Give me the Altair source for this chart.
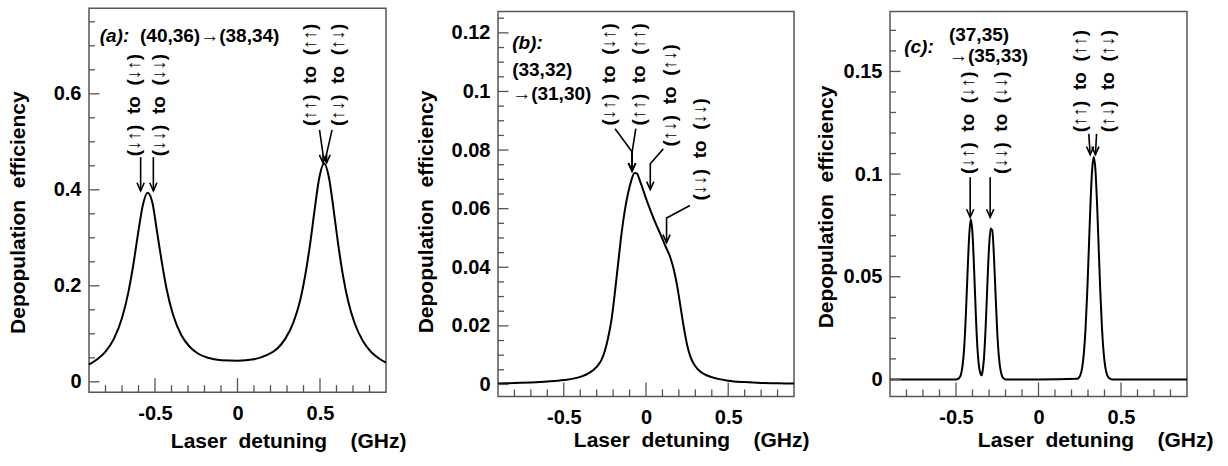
import altair as alt
import pandas as pd

FONT = "Liberation Sans"
FRAME = "#555555"
PAGE_H = 466
XDOM = [-0.9, 0.9]
XTITLE = "Laser\u00a0\u00a0detuning\u00a0\u00a0\u00a0\u00a0(GHz)"
YTITLE = "Depopulation\u00a0\u00a0efficiency"
X_MAJOR = [-0.5, 0.0, 0.5]
X_MINOR = [-0.8, -0.7, -0.6, -0.4, -0.3, -0.2, -0.1, 0.1, 0.2, 0.3, 0.4, 0.6, 0.7, 0.8]
SP = "\u00a0\u00a0"

# ---------------- panel (a) ----------------
a_x = [-0.90, -0.85, -0.80, -0.75, -0.70, -0.66, -0.63, -0.60, -0.575, -0.545, -0.515,
       -0.49, -0.46, -0.43, -0.39, -0.34, -0.29, -0.24, -0.18, -0.10, 0.00, 0.10, 0.18,
       0.24, 0.29, 0.34, 0.38, 0.41, 0.44, 0.47, 0.495, 0.525, 0.555, 0.58, 0.61, 0.64,
       0.67, 0.71, 0.76, 0.81, 0.86, 0.90]
a_y = [0.036, 0.047, 0.063, 0.089, 0.133, 0.189, 0.247, 0.315, 0.366, 0.394, 0.372,
       0.318, 0.252, 0.194, 0.139, 0.097, 0.073, 0.059, 0.050, 0.045, 0.044, 0.047, 0.056,
       0.069, 0.090, 0.125, 0.170, 0.221, 0.287, 0.365, 0.424, 0.455, 0.424, 0.365, 0.287,
       0.220, 0.169, 0.122, 0.085, 0.062, 0.048, 0.040]
a_ymajor = [0, 0.2, 0.4, 0.6]
a_yminor = [0.05, 0.1, 0.15, 0.25, 0.3, 0.35, 0.45, 0.5, 0.55, 0.65, 0.7, 0.75]
a_labels = ["(↓↑)" + SP + "to" + SP + "(↓↑)", "(↓↓)" + SP + "to" + SP + "(↓↓)",
            "(↑↑)" + SP + "to" + SP + "(↑↑)", "(↑↓)" + SP + "to" + SP + "(↑↓)"]
a_label_x = [-0.63, -0.475, 0.437, 0.609]
a_label_y = [0.470, 0.470, 0.533, 0.533]
a_arrows = [
    [(-0.587, 0.468), (-0.587, 0.398)],
    [(-0.510, 0.468), (-0.510, 0.398)],
    [(0.497, 0.525), (0.518, 0.475), (0.518, 0.456)],
    [(0.573, 0.525), (0.540, 0.475), (0.540, 0.456)],
]
a_head_it = [("(a):", -0.835, 0.7200)]
a_head = [("(40,36)→(38,34)", -0.591, 0.7200)]

# ---------------- panel (b) ----------------
b_x = [-0.90, -0.80, -0.70, -0.60, -0.50, -0.40, -0.35, -0.30, -0.27, -0.25, -0.23, -0.21,
       -0.19, -0.17, -0.15, -0.13, -0.11, -0.09, -0.07, -0.055, -0.04, -0.02, 0.00, 0.03,
       0.06, 0.09, 0.12, 0.15, 0.17, 0.19, 0.21, 0.23, 0.25, 0.27, 0.30, 0.34, 0.40, 0.50,
       0.60, 0.70, 0.80, 0.90]
b_y = [0.0003, 0.0005, 0.0007, 0.0010, 0.0015, 0.0026, 0.0038, 0.0060, 0.0085, 0.0115,
       0.0160, 0.0220, 0.0310, 0.0410, 0.0510, 0.0590, 0.0650, 0.0695, 0.0722, 0.0720,
       0.0700, 0.0668, 0.0635, 0.0590, 0.0548, 0.0510, 0.0470, 0.0430, 0.0390, 0.0335,
       0.0265, 0.0195, 0.0135, 0.0095, 0.0062, 0.0040, 0.0025, 0.0013, 0.0008, 0.0005,
       0.0004, 0.0003]
b_ymajor = [0, 0.02, 0.04, 0.06, 0.08, 0.1, 0.12]
b_yminor = [round(0.005 * i, 4) for i in range(1, 26) if i % 4 != 0]
b_labels = ["(↓↑)" + SP + "to" + SP + "(↓↑)", "(↑↑)" + SP + "to" + SP + "(↑↑)",
            "(↑↓)" + SP + "to" + SP + "(↑↓)", "(↓↓)" + SP + "to" + SP + "(↓↓)"]
b_label_x = [-0.228, -0.041, 0.144, 0.328]
b_label_y = [0.0884, 0.0884, 0.0812, 0.0628]
b_arrows = [
    [(-0.188, 0.0873), (-0.086, 0.0795), (-0.086, 0.0728)],
    [(-0.062, 0.0873), (-0.084, 0.0795), (-0.084, 0.0728)],
    [(0.105, 0.0804), (0.026, 0.0753), (0.026, 0.0665)],
    [(0.267, 0.0611), (0.125, 0.0568), (0.125, 0.0484)],
]
b_head_it = [("(b):", -0.814, 0.1164)]
b_head = [("(33,32)", -0.814, 0.1072), ("→(31,30)", -0.814, 0.0992)]

# ---------------- panel (c) ----------------
c_x = [-0.90, -0.60, -0.50, -0.49, -0.48, -0.47, -0.46, -0.45, -0.44, -0.43, -0.42, -0.41,
       -0.40, -0.39, -0.38, -0.37, -0.36, -0.35, -0.345, -0.34, -0.33, -0.32, -0.31, -0.30,
       -0.29, -0.28, -0.27, -0.26, -0.25, -0.24, -0.23, -0.22, -0.21, -0.20, 0.00, 0.235,
       0.245, 0.255, 0.265, 0.275, 0.285, 0.295, 0.305, 0.315, 0.325, 0.335, 0.345, 0.355,
       0.365, 0.375, 0.385, 0.395, 0.405, 0.415, 0.425, 0.435, 0.45, 0.90]
c_y = [0.0, 0.0, 0.0, 0.0002, 0.0007, 0.0024, 0.0068, 0.016, 0.032, 0.052, 0.070, 0.078,
       0.071, 0.053, 0.032, 0.015, 0.006, 0.0025, 0.002, 0.0035, 0.011, 0.026, 0.046, 0.064,
       0.0735, 0.0725, 0.060, 0.041, 0.023, 0.011, 0.0045, 0.0015, 0.0004, 0.0, 0.0, 0.0003,
       0.0009, 0.0024, 0.0059, 0.0128, 0.0245, 0.0419, 0.0635, 0.0854, 0.102, 0.1084, 0.102,
       0.0854, 0.0635, 0.0419, 0.0245, 0.0128, 0.0059, 0.0024, 0.0009, 0.0003, 0.0, 0.0]
c_ymajor = [0, 0.05, 0.1, 0.15]
c_yminor = [round(0.01 * i, 3) for i in range(1, 18) if i % 5 != 0]
c_labels = ["(↓↑)" + SP + "to" + SP + "(↓↑)", "(↓↓)" + SP + "to" + SP + "(↓↓)",
            "(↑↑)" + SP + "to" + SP + "(↑↑)", "(↑↓)" + SP + "to" + SP + "(↑↓)"]
c_label_x = [-0.428, -0.226, 0.249, 0.420]
c_label_y = [0.1001, 0.1001, 0.1204, 0.1204]
c_arrows = [
    [(-0.414, 0.0985), (-0.414, 0.0790)],
    [(-0.293, 0.0985), (-0.293, 0.0790)],
    [(0.305, 0.1196), (0.313, 0.1095)],
    [(0.352, 0.1196), (0.345, 0.1095)],
]
c_head_it = [("(c):", -0.814, 0.1618)]
c_head = [("(37,35)", -0.543, 0.1675), ("→(35,33)", -0.543, 0.1577)]

ARROW_HEAD = "M-0.45,-1L0,0L0.45,-1"


def panel(cx, cy, ydom, W, H, ymaj, ymin, labels, lx, ly, arrows, head_it, head,
          ext_l, ext_r, ext_t, ytx, yty, xtx, xty):
    xs = alt.Scale(domain=XDOM, nice=False, zero=False)
    ys = alt.Scale(domain=ydom, nice=False, zero=False)
    xax = alt.Axis(
        values=X_MAJOR, title=XTITLE, labelPadding=11, tickSize=0,
        labelExpr="datum.value < 0 ? '-' + format(-datum.value, '~g') : format(datum.value, '~g')",
        titleX=W + xtx, titleY=xty, titleAlign="right", titleBaseline="alphabetic")
    yax = alt.Axis(
        values=ymaj, title=YTITLE, format="~g", labelPadding=8, tickSize=0,
        titleX=ytx, titleY=yty, titleAngle=270, titleAlign="center",
        titleBaseline="alphabetic")

    def X(f):
        return alt.X(f, scale=xs, axis=xax)

    def Y(f):
        return alt.Y(f, scale=ys, axis=yax)

    one = pd.DataFrame({"k": [0]})
    # invisible diagonal rule: fixes each panel's outer box inside the row
    ext = alt.Chart(one).mark_rule(opacity=0, strokeOpacity=0).encode(
        x=alt.value(-ext_l), x2=alt.value(W + ext_r),
        y=alt.value(-ext_t), y2=alt.value(PAGE_H - ext_t))

    curve = alt.Chart(pd.DataFrame({"x": cx, "y": cy})).mark_line(
        color="black", strokeWidth=2, interpolate="monotone").encode(
        x=X("x:Q"), y=Y("y:Q"))

    def xt(vals, ln):
        return alt.Chart(pd.DataFrame({"x": vals})).mark_rule(
            color=FRAME, strokeWidth=1.3).encode(
            x=X("x:Q"), y=alt.value(H), y2=alt.value(H - ln))

    def yt(vals, ln):
        return alt.Chart(pd.DataFrame({"y": vals})).mark_rule(
            color=FRAME, strokeWidth=1.3).encode(
            y=Y("y:Q"), x=alt.value(0), x2=alt.value(ln))

    lab = alt.Chart(pd.DataFrame({"t": labels, "x": lx, "y": ly})).mark_text(
        angle=270, align="left", baseline="middle", font=FONT, fontSize=19,
        fontWeight="bold", color="black").encode(x=X("x:Q"), y=Y("y:Q"), text="t:N")

    rows = []
    for i, pts in enumerate(arrows):
        for j, (px, py) in enumerate(pts):
            rows.append({"id": i, "o": j, "x": px, "y": py})
    adf = pd.DataFrame(rows)
    arr = alt.Chart(adf).mark_line(color="black", strokeWidth=1.6).encode(
        x=X("x:Q"), y=Y("y:Q"), detail="id:N", order="o:Q")
    hdf = pd.DataFrame([{"x": p[-1][0], "y": p[-1][1]} for p in arrows])
    heads = alt.Chart(hdf).mark_point(
        shape=ARROW_HEAD, size=256, filled=False, color="black", strokeWidth=1.6,
        opacity=1).encode(x=X("x:Q"), y=Y("y:Q"))

    hi = alt.Chart(pd.DataFrame(head_it, columns=["t", "x", "y"])).mark_text(
        align="left", baseline="middle", font=FONT, fontSize=19, fontWeight="bold",
        fontStyle="italic", color="black").encode(x=X("x:Q"), y=Y("y:Q"), text="t:N")
    hn = alt.Chart(pd.DataFrame(head, columns=["t", "x", "y"])).mark_text(
        align="left", baseline="middle", font=FONT, fontSize=19, fontWeight="bold",
        color="black").encode(x=X("x:Q"), y=Y("y:Q"), text="t:N")

    return alt.layer(curve, ext, xt(X_MAJOR, 14), xt(X_MINOR, 7), yt(ymaj, 10.5),
                     yt(ymin, 6), lab, arr, heads, hi, hn).properties(width=W, height=H)


pa = panel(a_x, a_y, [-0.0215, 0.7785], 297, 384, a_ymajor, a_yminor, a_labels,
           a_label_x, a_label_y, a_arrows, a_head_it, a_head,
           ext_l=88, ext_r=23, ext_t=4, ytx=-65, yty=204, xtx=20, xty=55)
pb = panel(b_x, b_y, [-0.0041, 0.1273], 296, 385, b_ymajor, b_yminor, b_labels,
           b_label_x, b_label_y, b_arrows, b_head_it, b_head,
           ext_l=87, ext_r=16, ext_t=10.7, ytx=-66, yty=200, xtx=15, xty=50)
pc = panel(c_x, c_y, [-0.0083, 0.1792], 297, 385, c_ymajor, c_yminor, c_labels,
           c_label_x, c_label_y, c_arrows, c_head_it, c_head,
           ext_l=78, ext_r=24, ext_t=10.7, ytx=-58, yty=195, xtx=26, xty=50)

chart = alt.hconcat(pa, pb, pc, spacing=0, center=True, padding=0,
                    background="white").configure_axis(
    labelFont=FONT, labelFontSize=20, labelFontWeight="bold", labelColor="black",
    titleFont=FONT, titleFontSize=21, titleFontWeight="bold", titleColor="black",
    domain=False, ticks=False, grid=False
).configure_view(stroke=FRAME, strokeWidth=1.5)

chart.save("out.html", embed_options={"renderer": "svg", "actions": False})
